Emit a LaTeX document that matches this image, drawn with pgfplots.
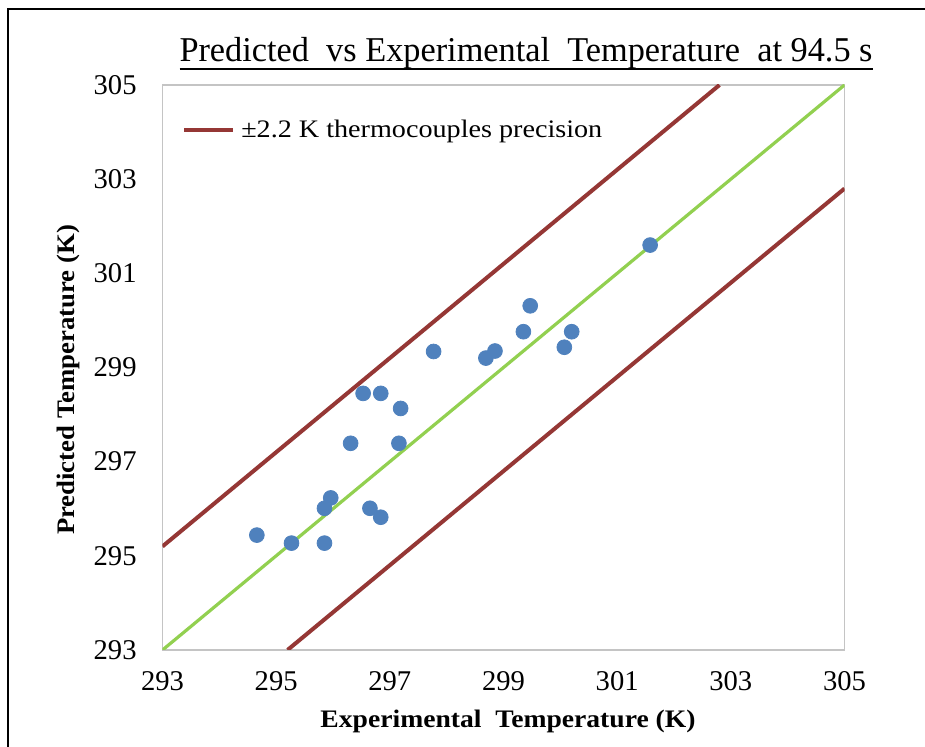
\documentclass[border=0pt]{standalone}
\usepackage{pgfplots}
\pgfplotsset{compat=1.18}
\usepackage{pgfplotstable}
\usepackage{graphicx}
\usepackage{fontspec}
\setmainfont{Liberation Serif}

\definecolor{tcred}{RGB}{149,55,53}
\definecolor{idgreen}{RGB}{146,208,80}
\definecolor{ptblue}{RGB}{79,129,189}
\definecolor{boxgray}{RGB}{196,196,196}

% experimental vs predicted temperature (K) at t = 94.5 s
\pgfplotstableread{
x      y
294.66 295.44
295.27 295.27
295.85 295.27
295.96 296.23
295.85 296.01
296.65 296.01
296.84 295.82
296.31 297.39
297.16 297.39
296.53 298.45
296.84 298.45
297.19 298.13
297.77 299.34
298.69 299.20
298.85 299.35
299.35 299.76
299.47 300.31
300.07 299.43
300.20 299.76
301.58 301.60
}\tempdata

% ideal agreement line and the +/-2.2 K band
\pgfplotstableread{
x     y
293.0 293.0
305.0 305.0
}\idealline
\pgfplotstableread{
x     y
293.0 295.2
302.8 305.0
}\upperband
\pgfplotstableread{
x     y
295.2 293.0
305.0 302.8
}\lowerband

\begin{document}
\begin{tikzpicture}[x=1pt,y=1pt]
\useasboundingbox (-81.25,-48.5) rectangle (381.25,325);
% outer frame
\draw[line width=1pt] (-77.25,-60) -- (-77.25,320.5) -- (400,320.5);

\begin{axis}[
  at={(0,0)}, anchor=south west,
  scale only axis, width=341pt, height=282.5pt,
  xmin=293, xmax=305, ymin=293, ymax=305,
  xtick={293,295,...,305}, ytick={293,295,...,305},
  major tick length=0pt,
  axis line style={boxgray, line width=0.85pt},
  /pgf/number format/assume math mode=true,
  tick label style={font=\fontsize{14.3}{14.3}\selectfont},
  xticklabel style={anchor=base, inner sep=0pt, yshift=-20.5pt},
  yticklabel style={anchor=east, inner sep=0pt, xshift=-12.75pt},
  legend style={at={(rel axis cs:0.029,0.920)}, anchor=west, draw=none, fill=none,
    inner sep=0pt, outer sep=0pt, font=\fontsize{12.6}{12.6}\selectfont,
    nodes={inner sep=0pt}},
  legend cell align=left,
  /tikz/every odd column/.style={column sep=3pt},
  legend image code/.code={\draw[#1] (0pt,0pt) -- (24.5pt,0pt);},
]
\addplot[tcred, line width=2pt] table[x=x,y=y] {\upperband};
\addlegendentry{\resizebox{180.5pt}{\height}{±2.2 K thermocouples precision}}
\addplot[tcred, line width=2pt, forget plot] table[x=x,y=y] {\lowerband};
\addplot[idgreen, line width=1.6pt, forget plot] table[x=x,y=y] {\idealline};
\addplot[only marks, mark=*, mark size=3.7pt, mark options={fill=ptblue, draw=ptblue}, forget plot]
  table[x=x,y=y] {\tempdata};
\end{axis}

% title
\node[anchor=base, inner sep=0pt] at (181.75,294.15)
  {\resizebox{346.5pt}{\height}{\fontsize{17.4}{17.4}\selectfont Predicted\ \ vs Experimental\ \ Temperature\ \ at 94.5 s}};
\draw[line width=0.8pt] (8.5,290.6) -- (355,290.6);

% axis titles
\node[anchor=base, inner sep=0pt, font=\bfseries\fontsize{12.6}{12.6}\selectfont]
  at (172.75,-39) {\resizebox{187.5pt}{\height}{Experimental\ \ Temperature (K)}};
\node[rotate=90, anchor=center, inner sep=0pt, font=\bfseries\fontsize{12.6}{12.6}\selectfont]
  at (-47.25,135) {\resizebox{155pt}{\height}{Predicted Temperature (K)}};
\end{tikzpicture}
\end{document}
